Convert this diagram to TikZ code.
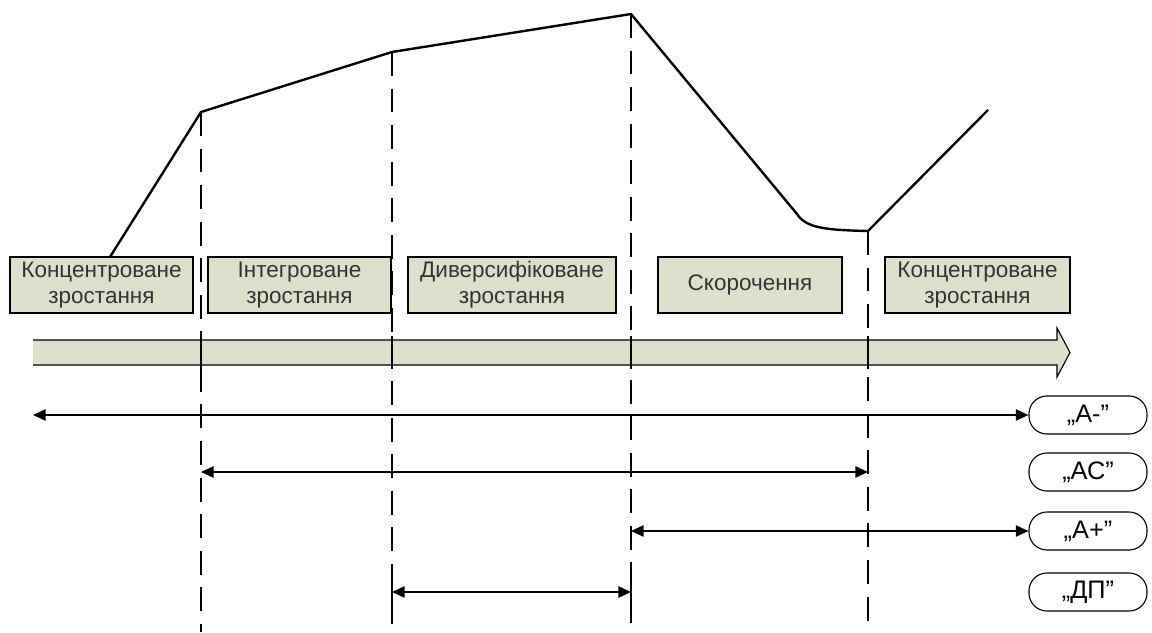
\documentclass[tikz,border=0pt]{standalone}
\usepackage{fontspec}
\setmainfont{Liberation Sans}
\usetikzlibrary{arrows.meta, positioning, calc}
\definecolor{stagefill}{RGB}{221,223,205}
\tikzstyle{stage} = [draw, thick, fill=stagefill, text=black!80, align=center, minimum height=1.4cm, inner sep=2pt, font=\fontsize{16}{18.5}\selectfont]
\tikzstyle{pill} = [draw, thick, rounded corners=0.45cm, minimum width=2.95cm, minimum height=0.95cm, font=\fontsize{18}{20}\selectfont]
\tikzstyle{guide} = [line width=1.5pt, dash pattern=on 17pt off 9pt]
\tikzstyle{span} = [line width=1.3pt, {Triangle[length=9pt,width=8pt]}-{Triangle[length=9pt,width=8pt]}]

\begin{document}
\begin{tikzpicture}[x=0.025cm, y=-0.025cm]
  \useasboundingbox (0,0) rectangle (1152,632);

  % stages
  \node [stage, minimum width=4.575cm] (conc1) at (101.5,285) {Концентроване\\зростання};
  \node [stage, minimum width=4.575cm] (integ) at (299.5,285) {Інтегроване\\зростання};
  \node [stage, minimum width=5.2cm] (diver) at (512,285) {Диверсифіковане\\зростання};
  \node [stage, minimum width=4.6cm] (cut) at (750,285) {Скорочення};
  \node [stage, minimum width=4.625cm] (conc2) at (977.5,285) {Концентроване\\зростання};

  % strategies
  \node [pill] (aminus) at (1088,415) {„А-”};
  \node [pill] (ac) at (1088,472) {„АС”};
  \node [pill] (aplus) at (1088,531) {„А+”};
  \node [pill] (dp) at (1088,592) {„ДП”};

  % curve points
  \coordinate (p0) at (110,257);
  \coordinate (p1) at (201,112);
  \coordinate (p2) at (392,52);
  \coordinate (p3) at (631,14);
  \coordinate (p4) at (868,231);
  \coordinate (p5) at (988,110);
  \draw [line width=1.7pt, line join=round] (p0) -- (p1) -- (p2) -- (p3) -- (797,214)
    .. controls (806,228) and (825,230) .. (p4) -- (p5);

  % time axis
  \fill [stagefill] (33,340) -- (1057,340) -- (1057,328) -- (1070,352.5) -- (1057,377) -- (1057,365) -- (33,365) -- cycle;
  \draw [thick, line join=miter] (33,340) -- (1057,340) -- (1057,328) -- (1070,352.5) -- (1057,377) -- (1057,365) -- (33,365);

  % borders between stages
  \foreach \p in {p1,p2,p3,p4} {
    \draw [guide] (\p) -- (\p |- 0,632);
    \draw [line width=1.5pt] ($(\p |- 0,336)$) -- ($(\p |- 0,369)$);
  }

  % spans
  \coordinate (l1) at (33,415);
  \draw [span] (l1) -- (aminus.west);
  \draw [span] (p1 |- ac) -- (p4 |- ac);
  \draw [span] (p3 |- aplus) -- (aplus.west);
  \draw [span] (p2 |- dp) -- (p3 |- dp);
  \draw [line width=1.5pt] ($(p2 |- dp)+(0,-12)$) -- ($(p2 |- dp)+(0,12)$);
  \draw [line width=1.5pt] ($(p3 |- dp)+(0,-12)$) -- ($(p3 |- dp)+(0,12)$);
\end{tikzpicture}
\end{document}
